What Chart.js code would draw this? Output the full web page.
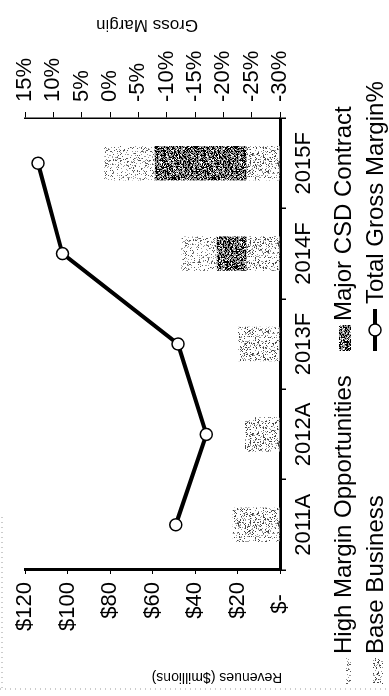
<!DOCTYPE html>
<html>
<head>
<meta charset="utf-8">
<title>Revenues and Gross Margin</title>
<script src="https://cdn.jsdelivr.net/npm/chart.js@4.4.0/dist/chart.umd.min.js"></script>
<style>
  html, body { margin: 0; padding: 0; background: #fff; overflow: hidden; }
  /* the chart is drawn landscape and then turned a quarter turn, like the scan */
  #wrap {
    position: absolute; left: 0; top: 0;
    width: 696px; height: 389px;
    transform-origin: 0 0;
    transform: translate(0, 696px) rotate(-90deg);
  }
</style>
</head>
<body>
<div id="wrap"><canvas id="chart" width="696" height="389"></canvas></div>
<script>
// data
const categories = ['2011A', '2012A', '2013F', '2014F', '2015F'];
const baseBusiness = [22.2, 16.5, 19.8, 15.6, 15.6];   // $ millions
const majorCsd = [0, 0, 0, 14.2, 43.4];
const highMargin = [0, 0, 0, 16.5, 23.7];
const grossMargin = [-11.6, -17.0, -12.0, 8.4, 12.7];  // %
const revenueTicks = [0, 20, 40, 60, 80, 100, 120];
const marginTicks = [-30, -25, -20, -15, -10, -5, 0, 5, 10, 15];

const FONT = "'Liberation Sans', Arial, sans-serif";
Chart.defaults.font.family = FONT;
Chart.defaults.color = '#000';

// speckled fills like the photocopy
function stipple(density, dark, seed) {
    const c = document.createElement('canvas');
    c.width = 40; c.height = 40;
    const g = c.getContext('2d');
    g.fillStyle = '#fff';
    g.fillRect(0, 0, 40, 40);
    let s = seed;
    const rnd = () => { s = (s * 1103515245 + 12345) % 2147483648; return s / 2147483648; };
    for (let y = 0; y < 40; y++) {
        for (let x = 0; x < 40; x++) {
            const r = rnd();
            if (r < density) {
                g.fillStyle = r < density * 0.5 ? dark : '#9a9a9a';
                g.fillRect(x, y, 1, 1);
            }
        }
    }
    return g.createPattern(c, 'repeat');
}
const ctx = document.getElementById('chart').getContext('2d');
const baseFill = stipple(0.26, '#444', 7);
const hmoFill = stipple(0.18, '#555', 31);
const csdFill = stipple(0.86, '#000', 99);

// axis titles, legend and frame drawn by hand
const extras = {
    id: 'extras',
    afterDraw(chart) {
        const c = chart.ctx;
        c.save();
        // scan frame
        c.strokeStyle = '#999';
        c.lineWidth = 1;
        c.setLineDash([1, 4]);
        c.beginPath();
        c.moveTo(7, 0); c.lineTo(7, 389);
        c.moveTo(8, 2); c.lineTo(180, 2);
        c.stroke();
        c.setLineDash([]);

        // axis titles, both read bottom to top
        c.fillStyle = '#000';
        c.textAlign = 'center';
        c.textBaseline = 'middle';
        c.font = '14px ' + FONT;
        c.save();
        c.translate(19, 217);
        c.rotate(-Math.PI / 2);
        c.fillText('Revenues ($millions)', 0, 0);
        c.restore();
        c.font = '17px ' + FONT;
        c.save();
        c.translate(671, 147);
        c.rotate(-Math.PI / 2);
        c.fillText('Gross Margin', 0, 0);
        c.restore();

        // legend, two rows
        const ds = chart.data.datasets;
        c.font = '24px ' + FONT;
        c.textAlign = 'left';
        const items = [
            { d: ds[2], x: 12, y: 343, h: 5 },
            { d: ds[1], x: 345, y: 343, h: 12 },
            { d: ds[0], x: 12, y: 375, h: 10 },
            { d: ds[3], x: 345, y: 375 }
        ];
        items.forEach(it => {
            if (it.d.type === 'line') {
                c.strokeStyle = '#000';
                c.lineWidth = 4;
                c.beginPath();
                c.moveTo(it.x, it.y); c.lineTo(it.x + 42, it.y);
                c.stroke();
                c.beginPath();
                c.arc(it.x + 21, it.y, 6, 0, Math.PI * 2);
                c.fillStyle = '#fff';
                c.fill();
                c.lineWidth = 1.5;
                c.stroke();
                c.fillStyle = '#000';
                c.fillText(it.d.label, it.x + 47, it.y + 1);
            } else {
                c.fillStyle = it.d.backgroundColor;
                c.fillRect(it.x, it.y + 8 - it.h, 26, it.h);
                c.fillStyle = '#000';
                c.fillText(it.d.label, it.x + 30, it.y + 1);
            }
        });
        c.restore();
    }
};

new Chart(ctx, {
    type: 'bar',
    data: {
        labels: categories,
        datasets: [
            { label: 'Base Business', data: baseBusiness, backgroundColor: baseFill,
              yAxisID: 'y', order: 2 },
            { label: 'Major CSD Contract', data: majorCsd, backgroundColor: csdFill,
              yAxisID: 'y', order: 2 },
            { label: 'High Margin Opportunities', data: highMargin, backgroundColor: hmoFill,
              yAxisID: 'y', order: 2 },
            { type: 'line', label: 'Total Gross Margin%', data: grossMargin, yAxisID: 'y2',
              borderColor: '#000', borderWidth: 4, tension: 0,
              pointRadius: 6, pointBackgroundColor: '#fff', pointBorderColor: '#000',
              pointBorderWidth: 1.5, order: 1 }
        ]
    },
    options: {
        responsive: false,
        animation: false,
        layout: { padding: { top: 25, left: 0, right: 0, bottom: 0 } },
        datasets: { bar: { categoryPercentage: 1, barPercentage: 0.38 } },
        plugins: { legend: { display: false }, tooltip: { enabled: false } },
        scales: {
            x: {
                stacked: true,
                border: { color: '#000', width: 3 },
                grid: { display: true, drawOnChartArea: false, tickLength: 6, color: '#000', lineWidth: 1.5 },
                ticks: { font: { size: 22 }, padding: 5, maxRotation: 0, autoSkip: false },
                afterFit: s => { s.height = 109; }
            },
            y: {
                stacked: true,
                min: 0, max: 120,
                afterBuildTicks: s => { s.ticks = revenueTicks.map(v => ({ value: v })); },
                border: { color: '#000', width: 3 },
                grid: { display: true, drawOnChartArea: false, tickLength: 4, color: '#000' },
                ticks: { font: { size: 22 }, padding: 8, autoSkip: false,
                         callback: v => v === 0 ? '$-  ' : '$' + v },
                afterFit: s => { s.width = 126; }
            },
            y2: {
                position: 'right',
                min: -30, max: 15,
                afterBuildTicks: s => { s.ticks = marginTicks.map(v => ({ value: v })); },
                border: { color: '#000', width: 1.5 },
                grid: { display: true, drawOnChartArea: false, tickLength: 6, color: '#000' },
                ticks: { font: { size: 22 }, padding: 10, autoSkip: false, callback: v => v + '%' },
                afterFit: s => { s.width = 118; }
            }
        }
    },
    plugins: [extras]
});
</script>
</body>
</html>
